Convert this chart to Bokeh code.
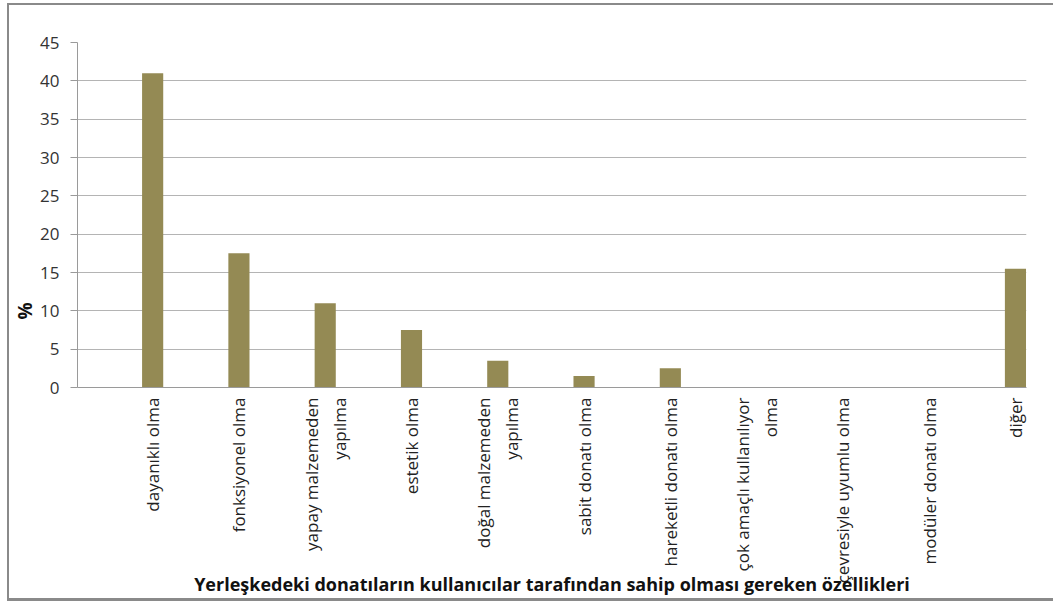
from math import pi

from bokeh.embed import file_html
from bokeh.models import ColumnDataSource, FixedTicker, Range1d, Title
from bokeh.plotting import figure
from bokeh.resources import INLINE

# Survey answers: features the campus furniture should have (%)
categories = [
    "dayanıklı olma",
    "fonksiyonel olma",
    "yapay malzemeden\nyapılma",
    "estetik olma",
    "doğal malzemeden\nyapılma",
    "sabit donatı olma",
    "hareketli donatı olma",
    "çok amaçlı kullanılıyor\nolma",
    "çevresiyle uyumlu olma",
    "modüler donatı olma",
    "diğer",
]
percent = [41, 17.5, 11, 7.5, 3.5, 1.5, 2.5, 0, 0, 0, 15.5]
y_ticks = [0, 5, 10, 15, 20, 25, 30, 35, 40, 45]

x_title = "Yerleşkedeki donatıların kullanıcılar tarafından sahip olması gereken özellikleri"
y_title = "%"

FONT = "Open Sans"
BAR = "#948A54"
GRID = "#b4b4b4"
AXIS = "#9a9a9a"
EDGE = "#8a8a8a"

positions = list(range(len(categories)))
source = ColumnDataSource(dict(x=positions, top=percent, label=categories))

p = figure(
    width=1046, height=598,
    x_range=Range1d(-0.871, 10.128), y_range=Range1d(0, 45),
    output_backend="svg", toolbar_location=None,
    min_border_left=68, min_border_right=29,
    min_border_top=37, min_border_bottom=216,
)
p.margin = (3, 0, 0, 7)
p.styles = {
    "border-top": f"2px solid {EDGE}",
    "border-left": f"2px solid {EDGE}",
    "border-bottom": f"3px solid {EDGE}",
}
p.outline_line_color = None
p.background_fill_color = "white"
p.border_fill_color = "white"

p.vbar(x="x", top="top", width=0.245, bottom=0, source=source,
       fill_color=BAR, line_color=None)

# y axis
p.yaxis.ticker = FixedTicker(ticks=y_ticks)
p.yaxis.axis_line_color = AXIS
p.yaxis.major_tick_line_color = AXIS
p.yaxis.major_tick_out = 7
p.yaxis.major_tick_in = 0
p.yaxis.minor_tick_line_color = None
p.yaxis.major_label_standoff = 11
p.yaxis.major_label_text_font = FONT
p.yaxis.major_label_text_font_size = "17px"
p.yaxis.major_label_text_color = "#333333"

# x axis with the category names, written vertically
p.xaxis.ticker = FixedTicker(ticks=positions)
p.xaxis.major_label_overrides = {i: c for i, c in zip(positions, categories)}
p.xaxis.major_label_orientation = pi / 2
p.xaxis.axis_line_color = AXIS
p.xaxis.major_tick_line_color = None
p.xaxis.major_tick_out = 0
p.xaxis.major_tick_in = 0
p.xaxis.minor_tick_line_color = None
p.xaxis.major_label_standoff = 10
p.xaxis.major_label_text_font = FONT
p.xaxis.major_label_text_font_size = "17px"
p.xaxis.major_label_text_color = "#222222"

# x axis title, tucked right under the category names
p.xaxis.axis_label = x_title
p.xaxis.axis_label_standoff = -14
p.xaxis.axis_label_text_font = FONT
p.xaxis.axis_label_text_font_style = "bold"
p.xaxis.axis_label_text_font_size = "18px"
p.xaxis.axis_label_text_color = "#111111"

p.xgrid.grid_line_color = None
p.ygrid.grid_line_color = GRID
p.ygrid.grid_line_width = 1

# y axis title, placed low beside the axis
p.add_layout(Title(
    text=y_title, align="left", offset=68, standoff=0,
    text_font=FONT, text_font_style="bold", text_font_size="19px",
    text_color="#111111",
), "left")

open("out.html", "w").write(file_html(p, INLINE))
